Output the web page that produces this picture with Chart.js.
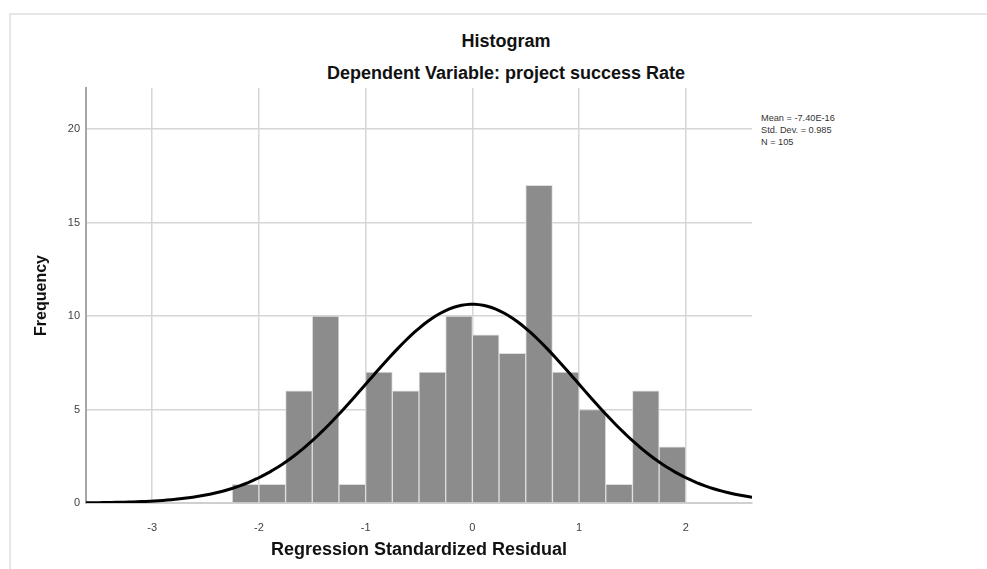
<!DOCTYPE html>
<html>
<head>
<meta charset="utf-8">
<script src="https://cdn.jsdelivr.net/npm/chart.js@4.4.1/dist/chart.umd.min.js"></script>
<style>
  html, body { margin: 0; padding: 0; background: #fff; }
  #wrap { position: relative; width: 987px; height: 569px; overflow: hidden; font-family: "Liberation Sans", Arial, sans-serif; }
  #frame { position: absolute; left: 9px; top: 13px; right: -5px; bottom: -5px; border-left: 2px solid #e6e6e6; border-top: 2px solid #e6e6e6; }
  .ttl { position: absolute; left: 0; width: 1012px; text-align: center; font-weight: bold; font-size: 18px; color: #111; }
  #stats { position: absolute; left: 761px; top: 112px; font-size: 9.2px; line-height: 12px; color: #333; }
  canvas { position: absolute; left: 0; top: 0; }
</style>
</head>
<body>
<div id="wrap">
  <div id="frame"></div>
  <div class="ttl" style="top:31px">Histogram</div>
  <div class="ttl" style="top:63px">Dependent Variable: project success Rate</div>
  <div id="stats">Mean = -7.40E-16<br>Std. Dev. = 0.985<br>N = 105</div>
  <canvas id="c" width="987" height="569"></canvas>
</div>
<script>
// histogram bins (width 0.25)
const binCenters = [-2.125, -1.875, -1.625, -1.375, -1.125, -0.875, -0.625, -0.375, -0.125,
                    0.125, 0.375, 0.625, 0.875, 1.125, 1.375, 1.625, 1.875];
const counts = [1, 1, 6, 10, 1, 7, 6, 7, 10, 9, 8, 17, 7, 5, 1, 6, 3];
const xTicks = [-3, -2, -1, 0, 1, 2];
const yTicks = [0, 5, 10, 15, 20];

// stats printed in the chart, used for the fitted normal curve
const MEAN = -7.40e-16, SD = 0.985, N = 105, BIN = 0.25;
const X_MIN = -3.62, X_MAX = 2.62, Y_MAX = 22.2;

const curve = [];
for (let x = X_MIN; x <= X_MAX + 1e-9; x += 0.04) {
  const z = (x - MEAN) / SD;
  curve.push({x: x, y: N * BIN * Math.exp(-0.5 * z * z) / (SD * Math.sqrt(2 * Math.PI))});
}

const bars = binCenters.map((c, i) => ({x: c, y: counts[i]}));
const tickFont = {family: "Liberation Sans, Arial", size: 11};

new Chart(document.getElementById("c"), {
  type: "bar",
  data: {
    datasets: [
      {type: "line", data: curve, borderColor: "#000", borderWidth: 3, pointRadius: 0, fill: false, order: 0},
      {type: "bar", data: bars, backgroundColor: "#8c8c8c", borderColor: "#dedede", borderWidth: 1,
       barPercentage: 1, categoryPercentage: 1, order: 1}
    ]
  },
  options: {
    responsive: false,
    animation: false,
    layout: {padding: {left: 20, top: 88, right: 235, bottom: 0}},
    plugins: {legend: {display: false}, tooltip: {enabled: false}},
    scales: {
      x: {
        type: "linear", min: X_MIN, max: X_MAX, offset: false,
        afterFit: s => { s.height = 66; },
        afterBuildTicks: s => { s.ticks = xTicks.map(v => ({value: v})); },
        grid: {color: "#d6d6d6", lineWidth: 1.5, drawTicks: false, offset: false},
        border: {color: "#cfcfcf", width: 2},
        ticks: {font: tickFont, color: "#404040", padding: 18},
        title: {display: true, text: "Regression Standardized Residual",
                font: {family: "Liberation Sans, Arial", size: 18, weight: "bold"}, color: "#111", padding: {top: 0, bottom: 8}}
      },
      y: {
        min: 0, max: Y_MAX,
        afterFit: s => { s.width = 66; },
        afterBuildTicks: s => { s.ticks = yTicks.map(v => ({value: v})); },
        grid: {color: "#d6d6d6", lineWidth: 1.5, drawTicks: false},
        border: {color: "#a6a6a6", width: 2},
        ticks: {font: tickFont, color: "#404040", padding: 6},
        title: {display: true, text: "Frequency",
                font: {family: "Liberation Sans, Arial", size: 16, weight: "bold"}, color: "#111", padding: {top: 12, bottom: 0}}
      }
    }
  }
});
</script>
</body>
</html>
